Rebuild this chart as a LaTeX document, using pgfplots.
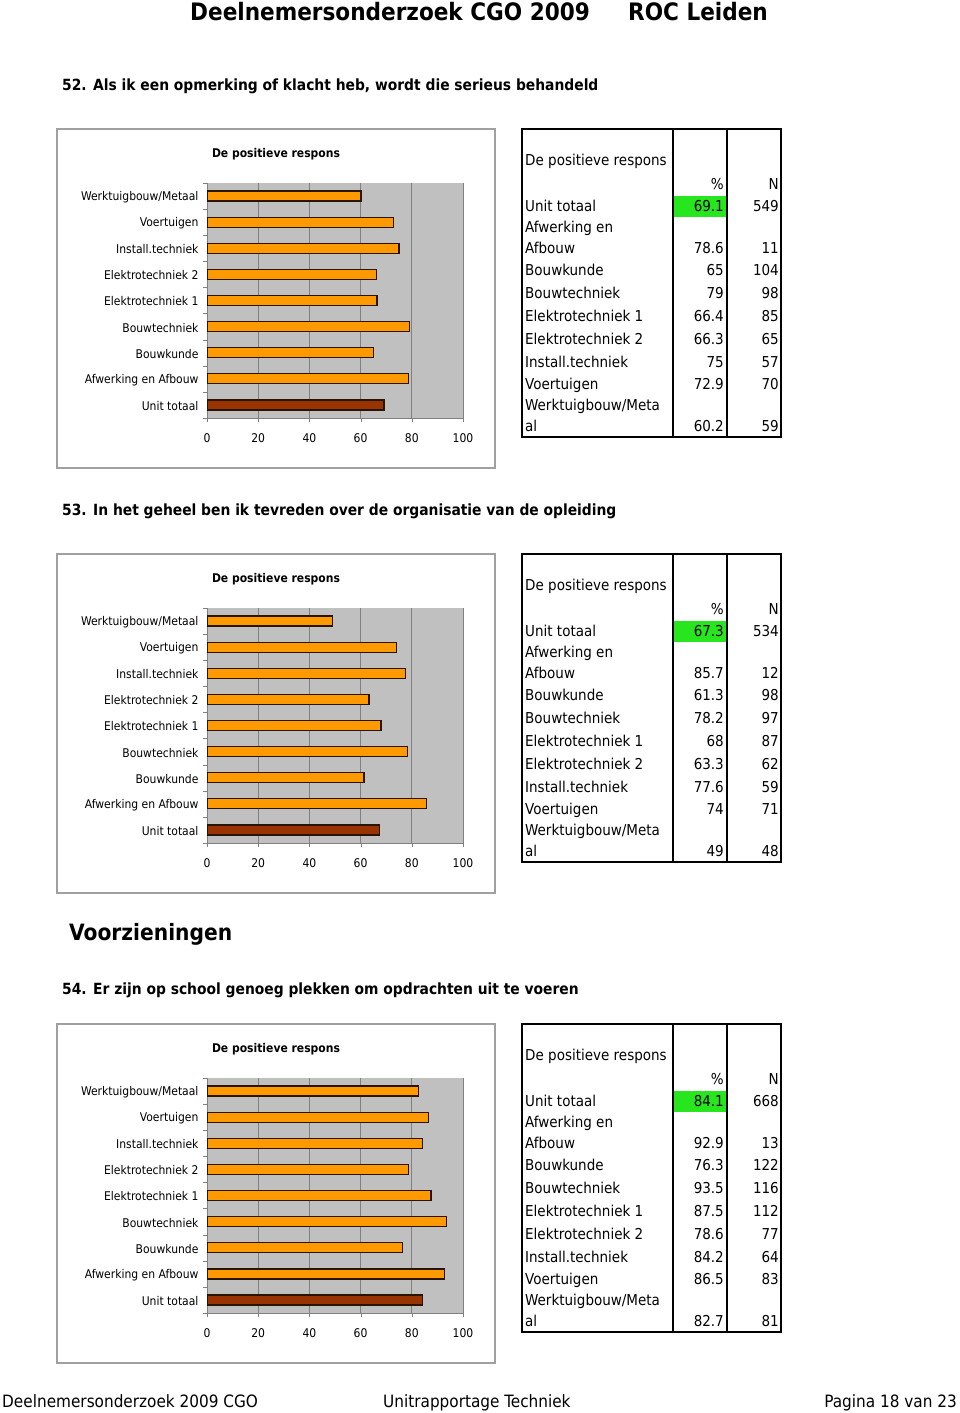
\documentclass[border=0pt]{standalone}
\usepackage{pgfplots}
\usepackage{pgfplotstable}
\pgfplotsset{compat=1.18}
\usepackage{fontspec}
\setmainfont{DejaVu Sans Condensed}

\definecolor{plotgray}{RGB}{192,192,192}
\definecolor{gridgray}{RGB}{128,128,128}
\definecolor{boxgray}{RGB}{160,160,160}
\definecolor{barorange}{RGB}{255,153,0}
\definecolor{barbrown}{RGB}{153,51,0}
\definecolor{bardark}{RGB}{40,20,0}
\definecolor{hlgreen}{RGB}{40,230,30}

% chart 52
\pgfplotstableread{
pct n
69.1 549
78.6 11
65 104
79 98
66.4 85
66.3 65
75 57
72.9 70
60.2 59
}\tabA
% chart 53
\pgfplotstableread{
pct n
67.3 534
85.7 12
61.3 98
78.2 97
68 87
63.3 62
77.6 59
74 71
49 48
}\tabB
% chart 54
\pgfplotstableread{
pct n
84.1 668
92.9 13
76.3 122
93.5 116
87.5 112
78.6 77
84.2 64
86.5 83
82.7 81
}\tabC

\newcommand{\lblfont}{\fontsize{12}{14}\selectfont}
\newcommand{\tabfont}{\fontsize{15}{18}\selectfont}

\newcommand{\chart}[2]{%
  \begin{scope}[yshift=-#1pt]
    \draw[draw=boxgray, line width=1.2pt] (57pt,-129pt) rectangle (495pt,-468pt);
    \node[font=\bfseries\lblfont] at (276pt,-154pt) {De positieve respons};
  \end{scope}
  \begin{axis}[
    at={(207pt,{-418pt-#1pt})}, anchor=south west,
    scale only axis, width=256pt, height=235pt,
    xbar, bar width=10pt, bar shift=0pt,
    xmin=0, xmax=100, ymin=-0.5, ymax=8.5,
    xtick={0,20,...,100},
    ytick={0,...,8},
    yticklabels={Unit totaal,Afwerking en Afbouw,Bouwkunde,Bouwtechniek,Elektrotechniek 1,Elektrotechniek 2,Install.techniek,Voertuigen,Werktuigbouw/Metaal},
    minor ytick={-0.5,0.5,...,8.5},
    tick align=outside, major tick length=4pt, minor tick length=4pt,
    major y tick style={draw=none},
    minor y tick style={draw=gridgray},
    major x tick style={draw=gridgray},
    axis background/.style={fill=plotgray},
    axis x line*=bottom, axis y line*=left,
    axis line style={draw=gridgray, line width=0.8pt},
    xmajorgrids, major grid style={draw=gridgray, line width=0.8pt},
    tick label style={font=\lblfont},
    xticklabel style={yshift=-8pt},
    yticklabel style={yshift=-1pt, xshift=-1pt},
    /pgf/number format/assume math mode=true,
  ]
    \addplot[fill=barbrown, draw=bardark, line width=1.3pt,
      restrict expr to domain={\coordindex}{0:0}]
      table[x=pct, y expr=\coordindex] {#2};
    \addplot[fill=barorange, draw=bardark, line width=1.3pt,
      restrict expr to domain={\coordindex}{1:8}]
      table[x=pct, y expr=\coordindex] {#2};
  \end{axis}
}

\newcommand{\datatable}[2]{%
  \begin{scope}[yshift=-#1pt, font=\tabfont]
    \fill[hlgreen] (673pt,-196pt) rectangle (727pt,-217pt);
    \draw[line width=1.3pt] (522pt,-129pt) rectangle (781pt,-437pt);
    \draw[line width=1.3pt] (673pt,-129pt) -- (673pt,-437pt);
    \draw[line width=1.3pt] (727pt,-129pt) -- (727pt,-437pt);
    \begin{scope}[yshift=-2.5pt]
    \node[anchor=mid west, inner sep=0pt] at (525pt,-160pt) {De positieve respons};
    \node[anchor=mid east, inner sep=0pt] at (724pt,-184pt) {\%};
    \node[anchor=mid east, inner sep=0pt] at (779pt,-184pt) {N};
    \foreach \yy/\lab in {206/{Unit totaal}, 227/{Afwerking en}, 248/{Afbouw}, 270/{Bouwkunde}, 293/{Bouwtechniek}, 316/{Elektrotechniek 1}, 339/{Elektrotechniek 2}, 362/{Install.techniek}, 384/{Voertuigen}, 405/{Werktuigbouw/Meta}, 426/{al}}
      {\node[anchor=mid west, inner sep=0pt] at (525pt,{-\yy*1pt}) {\lab};}
    \foreach \r/\yy in {0/206,1/248,2/270,3/293,4/316,5/339,6/362,7/384,8/426}{
      \pgfplotstablegetelem{\r}{pct}\of{#2}
      \node[anchor=mid east, inner sep=0pt] at (724pt,{-\yy*1pt}) {\pgfplotsretval};
      \pgfplotstablegetelem{\r}{n}\of{#2}
      \node[anchor=mid east, inner sep=0pt] at (779pt,{-\yy*1pt}) {\pgfplotsretval};
    }
    \end{scope}
  \end{scope}
}

\begin{document}
\begin{tikzpicture}
  \useasboundingbox (0pt,0pt) rectangle (960pt,-1413pt);
  % header
  \node[anchor=base west, inner sep=0pt, font=\bfseries\fontsize{24}{28}\selectfont] at (190pt,-21pt) {Deelnemersonderzoek CGO 2009};
  \node[anchor=base west, inner sep=0pt, font=\bfseries\fontsize{24}{28}\selectfont] at (628pt,-21pt) {ROC Leiden};
  % question titles
  \node[anchor=mid west, inner sep=0pt, font=\bfseries\fontsize{15.4}{18}\selectfont] at (62pt,-88pt) {52. Als ik een opmerking of klacht heb, wordt die serieus behandeld};
  \node[anchor=mid west, inner sep=0pt, font=\bfseries\fontsize{15.4}{18}\selectfont] at (62pt,-513pt) {53. In het geheel ben ik tevreden over de organisatie van de opleiding};
  \node[anchor=mid west, inner sep=0pt, font=\bfseries\fontsize{22.5}{26}\selectfont] at (69pt,-938pt) {Voorzieningen};
  \node[anchor=mid west, inner sep=0pt, font=\bfseries\fontsize{15.4}{18}\selectfont] at (62pt,-992pt) {54. Er zijn op school genoeg plekken om opdrachten uit te voeren};

  \chart{0}{\tabA}
  \datatable{0}{\tabA}
  \chart{425}{\tabB}
  \datatable{425}{\tabB}
  \chart{895}{\tabC}
  \datatable{895}{\tabC}

  % footer
  \node[anchor=mid west, inner sep=0pt, font=\fontsize{17}{20}\selectfont] at (2pt,-1405pt) {Deelnemersonderzoek 2009 CGO};
  \node[anchor=mid west, inner sep=0pt, font=\fontsize{17}{20}\selectfont] at (383pt,-1405pt) {Unitrapportage Techniek};
  \node[anchor=mid east, inner sep=0pt, font=\fontsize{17}{20}\selectfont] at (957pt,-1405pt) {Pagina 18 van 23};
\end{tikzpicture}
\end{document}
